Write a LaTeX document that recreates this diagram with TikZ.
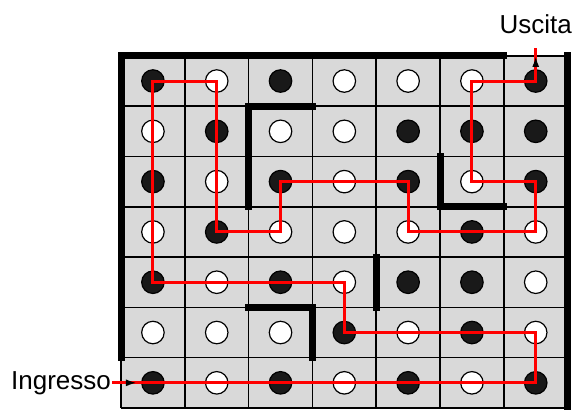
\documentclass[tikz,border=0pt]{standalone}
\usepackage{fontspec}
\setmainfont{Liberation Sans}
\usepackage{xcolor}
\usepackage{tikz}
\usetikzlibrary{arrows.meta}
\tikzset{>=latex}
\colorlet{tilecol}{black!15}
\colorlet{routecol}{red}
\tikzstyle{wall}=[line width=7pt, line cap=rect, line join=miter]
\tikzstyle{route}=[routecol, line width=3pt]
\tikzstyle{dotb}=[circle, draw, line width=1.2pt, fill=black!90, minimum size=22.5pt, inner sep=0pt]
\tikzstyle{dotw}=[circle, draw, line width=1.2pt, fill=white, minimum size=22.5pt, inner sep=0pt]
\tikzstyle{lbltext}=[font=\fontsize{26}{30}\selectfont, inner sep=1pt]
\tikzstyle{tipmark}=[-{Latex[black,length=11pt,width=7pt]}]

\begin{document}
\begin{tikzpicture}[x=63.8pt, y=50.3pt]
	\useasboundingbox (-1.897,-0.04) rectangle (7.1,8.111);
	% tiles
	\fill[tilecol] (0,0) rectangle (7,7);
	\draw[line width=1.6pt, step=1] (0,0) grid (7,7);
	\foreach \row [count=\r] in {{b,w,b,w,w,w,b},{w,b,w,w,b,b,b},{b,w,b,w,b,w,b},{w,b,w,w,w,b,w},{b,w,b,w,b,b,w},{w,w,w,b,w,b,w},{b,w,b,w,b,w,b}}
		\foreach \f [count=\c] in \row
			\node[dot\f] (p\c\r) at (\c-0.5,7.5-\r) {};
	% walls
	\draw[wall] (0,1) -- (0,7) -- (6,7);
	\draw[wall] (7,0) -- (7,7);
	\draw[wall] (2,4) -- (2,6) -- (3,6);
	\draw[wall] (5,5) -- (5,4) -- (6,4);
	\draw[wall] (4,2) -- (4,3);
	\draw[wall] (2,2) -- (3,2) -- (3,1);
	% entry and exit
	\node[lbltext, anchor=east] (in) at (-0.14,0.5) {Ingresso};
	\node[lbltext] (out) at (6.5,7.634) {Uscita};
	\coordinate (door) at (0.25,0.5);
	\coordinate (gate) at (6.5,7);
	\coordinate (top) at (6.5,7.16);
	% route
	\draw[route] (in.east) -- (p77.center) -- (p76.center) -- (p46.center) -- (p45.center) -- (p15.center) -- (p11.center) -- (p21.center) -- (p24.center) -- (p34.center) -- (p33.center) -- (p53.center) -- (p54.center) -- (p74.center) -- (p73.center) -- (p63.center) -- (p61.center) -- (p71.center) -- (top);
	\draw[route,tipmark] (in.east) -- (door);
	\draw[route,tipmark] (p71.center) -- (gate);
\end{tikzpicture}
\end{document}
